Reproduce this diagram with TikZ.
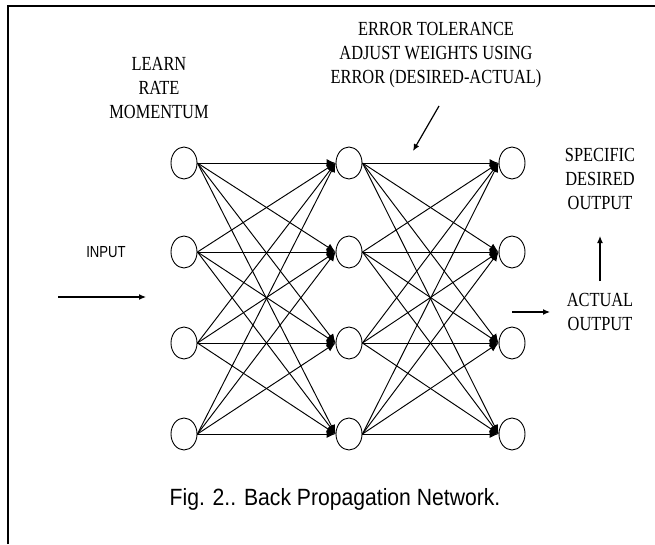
\documentclass[tikz,border=0pt]{standalone}
\usepackage{fontspec}
\setmainfont{Liberation Serif}[FakeStretch=0.82]
\newfontfamily\labelsans{Liberation Sans}[FakeStretch=0.82]
\newfontfamily\capsans{Liberation Sans}[FakeStretch=0.9]
\usetikzlibrary{shapes.geometric,arrows.meta}

\begin{document}
\begin{tikzpicture}[x=1pt, y=-1pt,
  neuron/.style={draw, ellipse, line width=0.9pt, minimum width=26pt, minimum height=32pt, inner sep=0pt},
  weight/.style={-{Latex[length=9pt,width=8pt]}, line width=0.95pt},
  pointer/.style={-{Latex[length=7pt,width=6pt]}, line width=1.2pt},
  note/.style={align=center, font=\fontsize{20}{24}\selectfont}]
  \useasboundingbox (0,0) rectangle (655,544);
  % Frame
  \draw[line width=2pt] (8,544) -- (8,6) -- (655,6);

  % Nodes
  \foreach \col/\x in {1/184, 2/349, 3/512}
    \foreach \row/\y in {1/163, 2/252, 3/343, 4/434}
      \node[neuron] (n\col\row) at (\x,\y) {};

  \node[note] (learn) at (159,88) {LEARN\\RATE\\MOMENTUM};
  \node[note] (error) at (436,55) {ERROR TOLERANCE\\ADJUST WEIGHTS USING\\ERROR (DESIRED-ACTUAL)};
  \node[note] (desired) at (600,179) {SPECIFIC\\DESIRED\\OUTPUT};
  \node[note] (actual) at (600,312) {ACTUAL\\OUTPUT};
  \node[font=\labelsans\fontsize{16}{19}\selectfont] (input) at (106,252) {INPUT};
  \node[font=\capsans\fontsize{23.5}{28}\selectfont] (caption) at (335,499) {Fig. 2.. Back Propagation Network.};

  % Free arrow ends
  \coordinate (inA) at (58,297);
  \coordinate (inB) at (146,297);
  \coordinate (errA) at (439,106);
  \coordinate (errB) at (413,151);
  \coordinate (outA) at (512,312);
  \coordinate (outB) at (550,312);
  \coordinate (upA) at (600,281);
  \coordinate (upB) at (600,236);

  % Arrows
  \foreach \i in {1,...,4}
    \foreach \j in {1,...,4} {
      \draw[weight] (n1\i.east) -- (n2\j.west);
      \draw[weight] (n2\i.east) -- (n3\j.west);
    }
  \draw[pointer] (inA) -- (inB);
  \draw[pointer] (errA) -- (errB);
  \draw[pointer] (outA) -- (outB);
  \draw[pointer] (upA) -- (upB);
\end{tikzpicture}
\end{document}
